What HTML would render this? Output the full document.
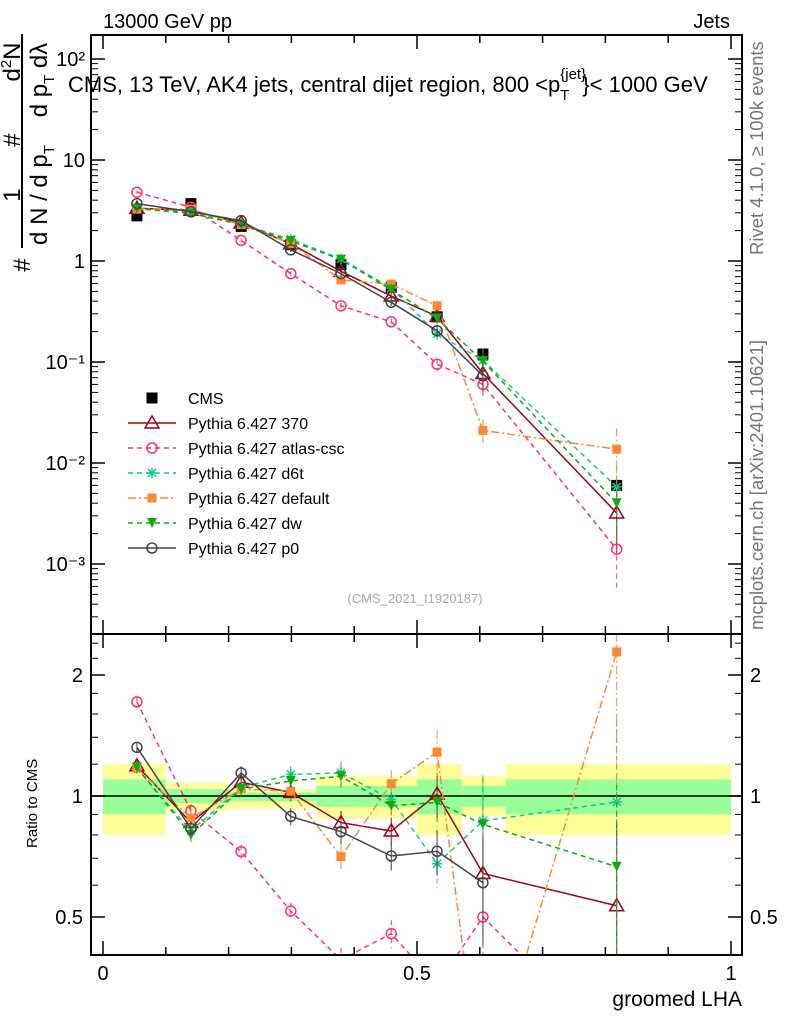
<!DOCTYPE html>
<html><head><meta charset="utf-8"><style>
html,body{margin:0;padding:0;background:#fff;overflow:hidden;width:786px;height:1024px;}
svg{font-family:"Liberation Sans",sans-serif;display:block;}
</style></head><body>
<svg id="chart" width="786" height="1024" xmlns="http://www.w3.org/2000/svg">
<text x="103" y="28" font-size="20">13000 GeV pp</text>
<text x="730" y="28" font-size="20" text-anchor="end">Jets</text>
<text x="763" y="255" font-size="18.5" fill="#777" transform="rotate(-90 763 255)">Rivet 4.1.0, ≥ 100k events</text>
<text x="763" y="630" font-size="18.5" fill="#777" transform="rotate(-90 763 630)">mcplots.cern.ch [arXiv:2401.10621]</text>
<g id="main"></g>
<g id="ratio"></g>
<text x="68" y="92" font-size="22">CMS, 13 TeV, AK4 jets, central dijet region, 800 &lt;p<tspan font-size="15" dy="-13">{jet}</tspan><tspan font-size="15" dx="-26" dy="21">T</tspan><tspan dy="-8" dx="13">}&lt; 1000 GeV</tspan></text>
<g font-size="24">
<line x1="22" y1="248" x2="22" y2="34" stroke="#000" stroke-width="2"/>
<text x="30" y="265" text-anchor="middle" transform="rotate(-90 30 265)">#</text>
<text x="20" y="195" text-anchor="middle" transform="rotate(-90 20 195)">1</text>
<text x="20" y="140" text-anchor="middle" transform="rotate(-90 20 140)">#</text>
<text x="20" y="62" text-anchor="middle" transform="rotate(-90 20 62)">d<tspan font-size="15" dy="-9">2</tspan><tspan dy="9">N</tspan></text>
<text x="47" y="195" text-anchor="middle" transform="rotate(-90 47 195)">d N / d p<tspan font-size="15" dy="7">T</tspan></text>
<text x="47" y="80" text-anchor="middle" transform="rotate(-90 47 80)">d p<tspan font-size="15" dy="7">T</tspan><tspan dy="-7"> dλ</tspan></text>
</g>
<text x="37" y="848" font-size="15" transform="rotate(-90 37 848)">Ratio to CMS</text>
<text x="742" y="1006" font-size="21" text-anchor="end">groomed LHA</text>
<text x="415" y="603" font-size="13" fill="#aaa" text-anchor="middle">(CMS_2021_I1920187)</text>
</svg>
<script>
const xs = [0.054,0.140,0.220,0.299,0.379,0.459,0.532,0.605,0.818];
const cms = [2.8,3.7,2.2,1.45,0.92,0.55,0.28,0.12,0.006];
const p370 = [3.33,3.18,2.38,1.48,0.79,0.45,0.283,0.077,0.0032];
const atlas = [4.8,3.4,1.6,0.75,0.36,0.25,0.095,0.06,0.0014];
const d6t = [3.28,3.03,2.31,1.64,1.05,0.54,0.19,0.104,0.0058];
const pdef = [3.28,3.26,2.29,1.49,0.65,0.59,0.36,0.021,0.0137];
const dw = [3.3,2.96,2.29,1.58,1.03,0.52,0.27,0.102,0.004];
const p0 = [3.7,3.07,2.51,1.29,0.75,0.39,0.204,0.073,null];
const mcErr = [0.03,0.04,0.04,0.05,0.07,0.08,0.13,0.3,0.6];
const binEdges = [0,0.1,0.2,0.34,0.5,0.572,0.641,1];
const bandTotHi = [1.20,1.08,1.04,1.12,1.20,1.12,1.20];
const bandTotLo = [0.80,0.92,0.93,0.88,0.80,0.89,0.80];
const bandStatHi = [1.10,1.04,1.02,1.06,1.10,1.06,1.10];
const bandStatLo = [0.90,0.96,0.97,0.94,0.90,0.94,0.90];
const xTicks = [0,0.5,1];
const mainTicks = [-3,-2,-1,0,1,2];
const mainTickLabels = ["10⁻³","10⁻²","10⁻¹","1","10","10²"];
const ratioTicks = [0.5,1,2];
const ratioTickLabels = ["0.5","1","2"];

const NS="http://www.w3.org/2000/svg";
const L=91,R=742,MT=35,MB=634,RB=955;
const X=v=>103+v*628;
const YM=v=>261-Math.log10(v)*101;
const YR=v=>796-Math.log2(v)*121;
function mk(p,t,a){const e=document.createElementNS(NS,t);for(const k in a)e.setAttribute(k,a[k]);p.appendChild(e);return e;}
const main=document.getElementById('main'), ratio=document.getElementById('ratio');

for(let i=0;i<bandTotHi.length;i++){
  const b=mk(ratio,'rect',{x:X(binEdges[i]),y:YR(bandTotHi[i]),width:X(binEdges[i+1])-X(binEdges[i]),height:YR(bandTotLo[i])-YR(bandTotHi[i]),fill:'#ffff99'});
  
  
  const g=mk(ratio,'rect',{x:X(binEdges[i]),y:YR(bandStatHi[i]),width:X(binEdges[i+1])-X(binEdges[i]),height:YR(bandStatLo[i])-YR(bandStatHi[i]),fill:'#99ff99'});
  
  
}
mk(ratio,'line',{x1:L,x2:R,y1:YR(1),y2:YR(1),stroke:'#000','stroke-width':1.5});

[[MT,MB],[MB,RB]].forEach(([t,b])=>{
  const f=mk(document.getElementById('chart'),'rect',{x:L,y:t,width:R-L,height:b-t,fill:'none',stroke:'#000','stroke-width':2});
  
  
  for(let k=0;k<=10;k++){const v=k/10;
    const len=(k%5==0)?14:8;
    mk(main,'line',{x1:X(v),x2:X(v),y1:b,y2:b-len,stroke:'#000','stroke-width':1.5});
    mk(main,'line',{x1:X(v),x2:X(v),y1:t,y2:t+len,stroke:'#000','stroke-width':1.5});}
});
mainTicks.forEach((e,i)=>{
  const y=YM(Math.pow(10,e));
  mk(main,'line',{x1:L,x2:L+14,y1:y,y2:y,stroke:'#000','stroke-width':1.5});
  mk(main,'line',{x1:R,x2:R-14,y1:y,y2:y,stroke:'#000','stroke-width':1.5});
  for(let m=2;m<10;m++){const ym=YM(m*Math.pow(10,e));if(ym>MT&&ym<MB){
    mk(main,'line',{x1:L,x2:L+7,y1:ym,y2:ym,stroke:'#000'});mk(main,'line',{x1:R,x2:R-7,y1:ym,y2:ym,stroke:'#000'});}}
  for(let m=2;m<10;m++){const ym=YM(m*Math.pow(10,e-1));if(e==-3&&ym>MT&&ym<MB){
    mk(main,'line',{x1:L,x2:L+7,y1:ym,y2:ym,stroke:'#000'});mk(main,'line',{x1:R,x2:R-7,y1:ym,y2:ym,stroke:'#000'});}}
  const t=mk(main,'text',{x:L-6,y:y+7,'font-size':20,'text-anchor':'end'});t.textContent=mainTickLabels[i];
  
  
});
ratioTicks.forEach((v,i)=>{
  const y=YR(v);
  mk(ratio,'line',{x1:L,x2:L+14,y1:y,y2:y,stroke:'#000','stroke-width':1.5});
  mk(ratio,'line',{x1:R,x2:R-14,y1:y,y2:y,stroke:'#000','stroke-width':1.5});
  const t=mk(ratio,'text',{x:L-8,y:y+7,'font-size':20,'text-anchor':'end'});t.textContent=ratioTickLabels[i];
  
  
  const t2=mk(ratio,'text',{x:R+8,y:y+7,'font-size':20});t2.textContent=ratioTickLabels[i];
  
  
});
[0.6,0.7,0.8,0.9,1.2,1.4,1.6,1.8,2.2,2.4].forEach(v=>{const y=YR(v);
  mk(ratio,'line',{x1:L,x2:L+7,y1:y,y2:y,stroke:'#000'});mk(ratio,'line',{x1:R,x2:R-7,y1:y,y2:y,stroke:'#000'});});
xTicks.forEach(v=>{const t=mk(ratio,'text',{x:X(v),y:980,'font-size':20,'text-anchor':'middle'});t.textContent=String(v);
  
  });

function marker(g,type,x,y,c){
  const s=5.5;
  if(type=='sq')return mk(g,'rect',{x:x-s,y:y-s,width:2*s,height:2*s,fill:c});
  if(type=='tri')return mk(g,'path',{d:`M${x} ${y-7}L${x+7} ${y+5}L${x-7} ${y+5}Z`,fill:'none',stroke:c,'stroke-width':1.5});
  if(type=='circ')return mk(g,'circle',{cx:x,cy:y,r:5,fill:'none',stroke:c,'stroke-width':1.5});
  if(type=='fsq')return mk(g,'rect',{x:x-4.5,y:y-4.5,width:9,height:9,fill:c});
  if(type=='dtri')return mk(g,'path',{d:`M${x-5} ${y-5}L${x+5} ${y-5}L${x} ${y+5}Z`,fill:c});
  if(type=='star')return mk(g,'path',{d:`M${x-5} ${y}H${x+5}M${x} ${y-5}V${y+5}M${x-4} ${y-4}L${x+4} ${y+4}M${x-4} ${y+4}L${x+4} ${y-4}`,stroke:c,'stroke-width':1.5});
}
const series=[
 {name:'370',vals:p370,c:'#a0001a',m:'tri',dash:'',label:'Pythia 6.427 370'},
 {name:'atlas-csc',vals:atlas,c:'#ff3366',m:'circ',dash:'5,4',label:'Pythia 6.427 atlas-csc'},
 {name:'d6t',vals:d6t,c:'#11cc88',m:'star',dash:'5,4',label:'Pythia 6.427 d6t'},
 {name:'default',vals:pdef,c:'#ff8833',m:'fsq',dash:'8,3,2,3',label:'Pythia 6.427 default'},
 {name:'dw',vals:dw,c:'#11aa11',m:'dtri',dash:'5,4',label:'Pythia 6.427 dw'},
 {name:'p0',vals:p0,c:'#444',m:'circ',dash:'',label:'Pythia 6.427 p0'}];

const clipR=mk(document.getElementById('chart'),'clipPath',{id:'cr'});mk(clipR,'rect',{x:L,y:MB,width:R-L,height:RB-MB});
const clipM=mk(document.getElementById('chart'),'clipPath',{id:'cm'});mk(clipM,'rect',{x:L,y:MT,width:R-L,height:MB-MT});
const gM=mk(main,'g',{'clip-path':'url(#cm)'}), gR=mk(ratio,'g',{'clip-path':'url(#cr)'});

cms.forEach((v,i)=>{const m=marker(gM,'sq',X(xs[i]),YM(v),'#000');
  
  });

series.forEach(s=>{
  let pm=[],pr=[];
  s.vals.forEach((v,i)=>{if(v==null)return;
    const r=v/cms[i];
    pm.push(X(xs[i])+','+YM(v));pr.push(X(xs[i])+','+YR(r));
    const e=mcErr[i];
    mk(gM,'line',{x1:X(xs[i]),x2:X(xs[i]),y1:YM(v*(1+e)),y2:YM(Math.max(v*(1-e),1e-6)),stroke:s.c,'stroke-dasharray':s.dash});
    mk(gR,'line',{x1:X(xs[i]),x2:X(xs[i]),y1:YR(r*(1+e)),y2:YR(Math.max(r*(1-e),0.01)),stroke:s.c,'stroke-dasharray':s.dash});
    const a=marker(gM,s.m,X(xs[i]),YM(v),s.c);
    
    
    const b=marker(gR,s.m,X(xs[i]),YR(r),s.c);
    
    
  });
  const l1=mk(gM,'polyline',{points:pm.join(' '),fill:'none',stroke:s.c,'stroke-width':1.5,'stroke-dasharray':s.dash});
  
  
  const l2=mk(gR,'polyline',{points:pr.join(' '),fill:'none',stroke:s.c,'stroke-width':1.5,'stroke-dasharray':s.dash});
  
  
});

const lg=mk(main,'g',{});


const ly0=398;
marker(lg,'sq',152,ly0,'#000');
const t0=mk(lg,'text',{x:188,y:ly0+6,'font-size':16});t0.textContent='CMS';


series.forEach((s,i)=>{const y=ly0+25*(i+1);
  mk(lg,'line',{x1:128,x2:176,y1:y,y2:y,stroke:s.c,'stroke-width':1.5,'stroke-dasharray':s.dash});
  marker(lg,s.m,152,y,s.c);
  const t=mk(lg,'text',{x:188,y:y+6,'font-size':16});t.textContent=s.label;
  
  
});
</script>
</body></html>
